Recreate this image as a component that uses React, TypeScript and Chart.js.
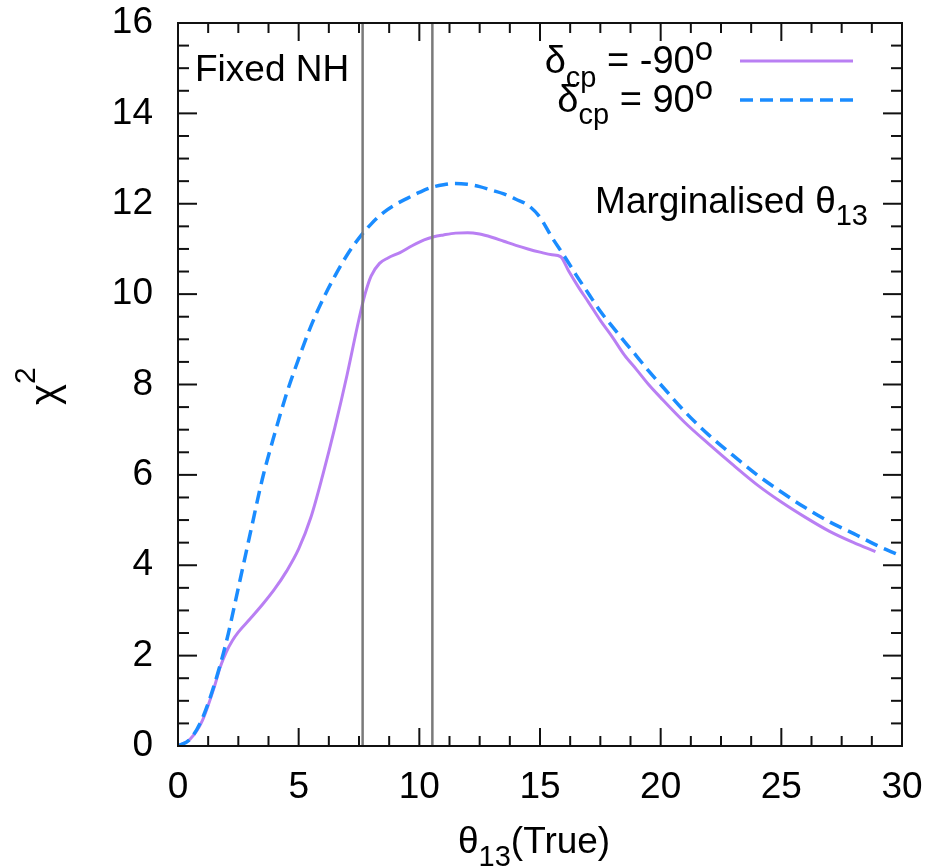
import { useEffect, useRef } from 'react';
import { Chart, registerables } from 'chart.js';

Chart.register(...registerables);

// θ13(True) grid for δcp = -90°
const thetaMinus90 = [0, 0.5, 1, 1.5, 1.75, 2, 2.25, 2.5, 3, 3.5, 4, 4.5, 5, 5.5, 6, 6.5, 7, 7.5, 7.75, 8, 8.35, 8.7, 9.2, 9.7, 10.2, 10.6, 11, 11.5, 12, 12.5, 13, 13.5, 14, 14.5, 15, 15.5, 15.85, 16.2, 16.6, 17, 17.5, 18, 18.5, 19, 19.5, 20, 21, 22, 23, 24, 25, 26, 27, 28, 28.9];
const chiMinus90 = [0, 0.15, 0.55, 1.3, 1.75, 2.08, 2.33, 2.52, 2.82, 3.13, 3.47, 3.87, 4.36, 5.05, 6.0, 7.05, 8.2, 9.45, 10.0, 10.4, 10.68, 10.8, 10.92, 11.07, 11.2, 11.27, 11.31, 11.35, 11.36, 11.33, 11.26, 11.17, 11.08, 11.0, 10.93, 10.87, 10.83, 10.5, 10.15, 9.83, 9.42, 9.05, 8.65, 8.33, 8.0, 7.71, 7.16, 6.68, 6.22, 5.78, 5.4, 5.06, 4.75, 4.5, 4.3];

// θ13(True) grid for δcp = 90°
const thetaPlus90 = [0, 0.5, 1, 1.5, 2, 2.5, 3, 3.5, 4, 4.5, 5, 5.5, 6, 6.5, 7, 7.5, 8, 8.5, 9, 9.5, 10, 10.5, 11, 11.5, 12, 12.5, 13, 13.5, 14, 14.5, 15, 15.5, 16, 16.5, 17, 17.5, 18, 18.5, 19, 19.5, 20, 21, 22, 23, 24, 25, 26, 27, 28, 29, 30];
const chiPlus90 = [0, 0.15, 0.6, 1.35, 2.3, 3.5, 4.72, 5.92, 6.9, 7.8, 8.57, 9.28, 9.88, 10.4, 10.86, 11.24, 11.55, 11.8, 11.98, 12.12, 12.25, 12.36, 12.42, 12.45, 12.43, 12.38, 12.3, 12.22, 12.1, 11.97, 11.7, 11.25, 10.85, 10.42, 10.02, 9.62, 9.28, 8.95, 8.63, 8.3, 8.0, 7.4, 6.88, 6.43, 6.0, 5.62, 5.27, 4.96, 4.7, 4.43, 4.2];

// Fixed NH reference lines
const fixedLinesX = [7.65, 10.54];

// Tick labels
const xTickValues = [0, 5, 10, 15, 20, 25, 30];
const yTickValues = [0, 2, 4, 6, 8, 10, 12, 14, 16];

const FONT = "'Liberation Sans', Arial, Helvetica, sans-serif";
const PURPLE = '#b97ff3';
const BLUE = '#1a8cff';
const GRAY = '#7a7a7a';

type Part = { t: string; s: number; dy?: number };

function richWidth(ctx: CanvasRenderingContext2D, parts: Part[]) {
  let w = 0;
  for (const p of parts) {
    ctx.font = `${p.s}px ${FONT}`;
    w += ctx.measureText(p.t).width;
  }
  return w;
}

function drawRich(ctx: CanvasRenderingContext2D, parts: Part[], x: number, y: number, align: 'left' | 'right' = 'left') {
  let cx = align === 'right' ? x - richWidth(ctx, parts) : x;
  ctx.textAlign = 'left';
  ctx.textBaseline = 'alphabetic';
  for (const p of parts) {
    ctx.font = `${p.s}px ${FONT}`;
    ctx.fillText(p.t, cx, y + (p.dy || 0));
    cx += ctx.measureText(p.t).width;
  }
}

const decorPlugin = {
  id: 'decor',
  afterDatasetsDraw(chart: any) {
    const { ctx, chartArea: a, scales } = chart;
    const xs = scales.x;
    const ys = scales.y;
    ctx.save();
    ctx.strokeStyle = '#111';
    ctx.lineWidth = 2;
    const seg = (x1: number, y1: number, x2: number, y2: number) => {
      ctx.beginPath();
      ctx.moveTo(x1, y1);
      ctx.lineTo(x2, y2);
      ctx.stroke();
    };
    // x ticks (inward, mirrored)
    for (let i = 0; i <= 24; i++) {
      const v = i * 1.25;
      const px = xs.getPixelForValue(v);
      const len = i % 4 === 0 ? 18 : 10;
      seg(px, a.bottom, px, a.bottom - len);
      seg(px, a.top, px, a.top + len);
    }
    // y ticks
    for (let i = 0; i <= 32; i++) {
      const v = i * 0.5;
      const py = ys.getPixelForValue(v);
      const len = i % 4 === 0 ? 19 : 11;
      seg(a.left, py, a.left + len, py);
      seg(a.right, py, a.right - len, py);
    }
    ctx.strokeRect(a.left, a.top, a.right - a.left, a.bottom - a.top);

    ctx.fillStyle = '#000';
    // Fixed NH
    drawRich(ctx, [{ t: 'Fixed NH', s: 37 }], 195, 81);
    // Marginalised θ13
    drawRich(ctx, [{ t: 'Marginalised θ', s: 37 }, { t: '13', s: 29, dy: 12 }], 868, 213, 'right');

    // Legend
    const leg1: Part[] = [{ t: 'δ', s: 38 }, { t: 'cp', s: 29, dy: 14 }, { t: ' = -90', s: 38 }, { t: 'o', s: 33, dy: -13 }];
    const leg2: Part[] = [{ t: 'δ', s: 38 }, { t: 'cp', s: 29, dy: 12 }, { t: ' = 90', s: 38 }, { t: 'o', s: 33, dy: -13 }];
    drawRich(ctx, leg1, 713, 73, 'right');
    drawRich(ctx, leg2, 713, 112, 'right');
    ctx.lineWidth = 3;
    ctx.strokeStyle = PURPLE;
    seg(740, 61, 853, 61);
    ctx.strokeStyle = BLUE;
    ctx.lineWidth = 3.5;
    ctx.setLineDash([13, 7]);
    seg(740, 100, 853, 100);
    ctx.setLineDash([]);

    // X axis title
    ctx.fillStyle = '#000';
    drawRich(ctx, [{ t: 'θ', s: 37 }, { t: '13', s: 29, dy: 13 }, { t: '(True)', s: 37 }], 458, 853);

    // Y axis title
    ctx.save();
    ctx.translate(58, 405);
    ctx.rotate(-Math.PI / 2);
    drawRich(ctx, [{ t: 'χ', s: 40 }, { t: '2', s: 30, dy: -23 }], 0, 0);
    ctx.restore();

    ctx.restore();
  },
};

export default function App() {
  const ref = useRef<HTMLCanvasElement | null>(null);

  useEffect(() => {
    if (!ref.current) return;
    const purple = thetaMinus90.map((x, i) => ({ x, y: chiMinus90[i] }));
    const blue = thetaPlus90.map((x, i) => ({ x, y: chiPlus90[i] }));
    const vlines = fixedLinesX.map((x) => ({
      label: 'Fixed NH ' + x,
      data: [{ x, y: 0 }, { x, y: 16 }],
      borderColor: GRAY,
      borderWidth: 2.5,
      pointRadius: 0,
      fill: false,
    }));
    const chart = new Chart(ref.current, {
      type: 'line',
      data: {
        datasets: [
          ...vlines,
          {
            label: 'δcp = 90°',
            data: blue,
            borderColor: BLUE,
            borderWidth: 3.5,
            borderDash: [13, 7],
            pointRadius: 0,
            cubicInterpolationMode: 'monotone',
            fill: false,
          },
          {
            label: 'δcp = -90°',
            data: purple,
            borderColor: PURPLE,
            borderWidth: 3,
            pointRadius: 0,
            cubicInterpolationMode: 'monotone',
            fill: false,
          },
        ] as any,
      },
      options: {
        animation: false,
        responsive: false,
        layout: { padding: { top: 23, right: 30, left: 0, bottom: 0 } },
        plugins: { legend: { display: false }, tooltip: { enabled: false } },
        scales: {
          x: {
            type: 'linear',
            min: 0,
            max: 30,
            grid: { display: false, drawTicks: false },
            border: { display: false },
            afterBuildTicks: (s: any) => {
              s.ticks = xTickValues.map((v) => ({ value: v }));
            },
            afterFit: (s: any) => {
              s.height = 122;
              s.paddingLeft = 0;
              s.paddingRight = 0;
              s.paddingTop = 0;
              s.paddingBottom = 0;
            },
            ticks: {
              padding: 20,
              color: '#000',
              font: { family: FONT, size: 37 },
              maxRotation: 0,
            },
          },
          y: {
            type: 'linear',
            min: 0,
            max: 16,
            grid: { display: false, drawTicks: false },
            border: { display: false },
            afterBuildTicks: (s: any) => {
              s.ticks = yTickValues.map((v) => ({ value: v }));
            },
            afterFit: (s: any) => {
              s.width = 178;
              s.paddingLeft = 0;
              s.paddingRight = 0;
              s.paddingTop = 0;
              s.paddingBottom = 0;
            },
            ticks: {
              padding: 25,
              color: '#000',
              font: { family: FONT, size: 37 },
            },
          },
        },
      } as any,
      plugins: [decorPlugin],
    });
    return () => chart.destroy();
  }, []);

  return (
    <div style={{ position: 'absolute', left: 0, top: 0, width: 932, height: 868, background: '#fff' }}>
      <canvas ref={ref} width={932} height={868} style={{ display: 'block' }} />
    </div>
  );
}
